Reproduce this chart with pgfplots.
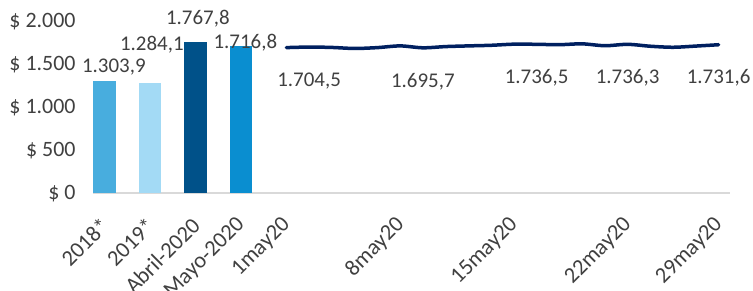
\documentclass[border=0pt]{standalone}
\usepackage{fontspec}
\setmainfont{Carlito}
\usepackage{pgfplots}
\pgfplotsset{compat=1.18}
\definecolor{cA}{RGB}{72,173,222}
\definecolor{cB}{RGB}{163,218,245}
\definecolor{cC}{RGB}{0,81,137}
\definecolor{cD}{RGB}{10,142,208}
\definecolor{navy}{RGB}{0,32,96}
\definecolor{txt}{RGB}{64,64,64}
\definecolor{axg}{RGB}{217,217,217}
\begin{document}
\begin{tikzpicture}
\useasboundingbox (0,0) rectangle (753bp,291bp);
\begin{axis}[
  at={(93bp,97.7bp)}, anchor=south west,
  scale only axis, width=637bp, height=171.6bp,
  xmin=-0.5, xmax=27.5, ymin=0, ymax=2000,
  separate axis lines,
  axis x line*=bottom, axis y line*=left,
  x axis line style={draw=axg, line width=2bp, -},
  y axis line style={draw=none},
  major tick length=0pt, tick style={draw=none},
  font=\fontsize{21}{25}\selectfont,
  /pgf/number format/assume math mode=true,
  /pgf/number format/.cd, fixed, fixed zerofill, precision=1, use comma, 1000 sep={.},
  /pgfplots/.cd,
  ytick={0,500,1000,1500,2000},
  yticklabels={\$ 0,\$ 500,\$ 1.000,\$ 1.500,\$ 2.000},
  yticklabel style={text=txt, font=\fontsize{22}{26}\selectfont, xshift=-14bp},
  xtick={0,2,4,6,8,13,18,23,27},
  xticklabels={2018*,2019*,Abril-2020,Mayo-2020,1may20,8may20,15may20,22may20,29may20},
  xticklabel style={text=txt, font=\fontsize{22.5}{26}\selectfont, yshift=-26bp, xshift=3bp, rotate=45, anchor=east},
  clip=false,
]
\addplot[ybar, bar width=1, bar shift=0pt, fill=cA, draw=none,
  nodes near coords, every node near coord/.append style={text=txt, anchor=center, xshift=9.5bp, yshift=14bp}]
  coordinates {(0,1303.9)};
\addplot[ybar, bar width=1, bar shift=0pt, fill=cB, draw=none,
  nodes near coords, every node near coord/.append style={text=txt, anchor=center, xshift=2bp, yshift=38bp}]
  coordinates {(2,1284.1)};
\addplot[ybar, bar width=1, bar shift=0pt, fill=cC, draw=none,
  nodes near coords, every node near coord/.append style={text=txt, anchor=center, xshift=2.5bp, yshift=22.6bp}]
  coordinates {(4,1767.8)};
\addplot[ybar, bar width=1, bar shift=0pt, fill=cD, draw=none,
  nodes near coords, every node near coord/.append style={text=txt, anchor=center, xshift=4.5bp, yshift=3bp}]
  coordinates {(6,1716.8)};
\addplot[navy, line width=3.5bp, line cap=round, smooth, tension=0.5, mark=none]
  coordinates {
  (8,1698) (9,1704.5) (10,1700) (11,1688) (12,1698) (13,1718) (14,1695.7)
  (15,1710) (16,1718) (17,1725) (18,1738) (19,1736.5) (20,1732) (21,1742)
  (22,1720) (23,1736.3) (24,1714) (25,1702) (26,1716) (27,1731.6)};
\addplot[draw=none, mark=none, nodes near coords,
  every node near coord/.append style={text=txt, anchor=center, yshift=-33.5bp}]
  coordinates {(9,1704.5) (14,1695.7) (19,1736.5) (23,1736.3) (27,1731.6)};
\end{axis}
\end{tikzpicture}
\end{document}
